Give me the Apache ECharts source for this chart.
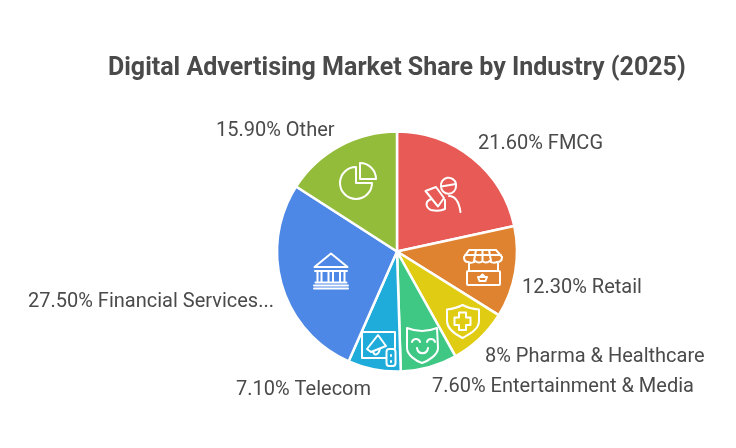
<!DOCTYPE html>
<html><head><meta charset="utf-8">
<script src="https://cdn.jsdelivr.net/npm/echarts@6/dist/echarts.min.js"></script>
<style>html,body{margin:0;padding:0;background:#fff}#c{width:736px;height:448px}</style></head>
<body><div id="c"></div>
<script>
const titleText = 'Digital Advertising Market Share by Industry (2025)';
const categories = ['FMCG','Retail','Pharma & Healthcare','Entertainment & Media','Telecom','Financial Services...','Other'];
const shares = [21.6,12.3,8,7.6,7.1,27.5,15.9];
const shareLabels = ['21.60%','12.30%','8%','7.60%','7.10%','27.50%','15.90%'];
const colors = ['#E85A55','#DF8330','#E1CC14','#3FC784','#1FACDB','#4E88E6','#93BC3B'];
const labelAnchors = [[478,144],[522,288],[485,357],[432,387],[236,390],[28,302],[216,131]];
const iconPaths = [
 'M441 186.500 A7.500 7.500 0 0 1 456 184 L456 186 A7.500 7.500 0 0 1 441 186.500 Z M441 186.500 L456 184 M449 196 C455 196 459 202 460.500 212 M425.500 191 L436 187 L444 198 L438 206.500 Z M431.500 199 C425 201 425 207 431 210 C436 211 441 211 445 209 L445 200',
 'M469 250 L496 250 L502 257 C502 261 499 262 497 262 C495 263 491 263 489.500 261 C488 263 484 263 482.500 261 C481 263 477 263 475.500 261 C474 263 470 263 468 262 C466 262 464 261 464 257 Z M465 255 L501 255 M476 250 L474 261 M482.500 250 L482.500 261 M489 250 L491 261 M469 263 L469 271 M498 263 L498 271 M468 271 L499 271 Q500 271 500 272 L500 284 Q500 285 499 285 L468 285 Q467 285 467 284 L467 272 Q467 271 468 271 Z M478 277 L487 277 L485.500 281 L479.500 281 Z M480 277 L482.500 274.500 L485 277',
 'M462.500 305 C457 308 452 309 447 309.500 L447 321 C447 329 455 334 462.500 338 C470 334 479 329 479 321 L479 309.500 C473 309 468 308 462.500 305 Z M459 312.500 L466 312.500 L466 317.500 L470.500 317.500 L470.500 325 L466 325 L466 330 L459 330 L459 325 L454.500 325 L454.500 317.500 L459 317.500 Z',
 'M407 328 C417 332 427 332 437 328 L438 348 C438 355 428 361 422 363 C416 361 407 355 407 348 Z M412 342 C413 338 419 338 420 342 M427 342 C428 338 434 338 435 342 M417 348 C418 355 427 355 428 348',
 'M386 358 L362 358 L362 332 L395 332 L395 348 M367 349 L378 335 L386 346 L371 352 Z M373 351 C374 356 378 356 380 349 M389 349 L393 349 Q395.500 349 395.500 352 L395.500 363 Q395.500 366 393 366 L389 366 Q386.500 366 386.500 363 L386.500 352 Q386.500 349 389 349 Z M391 355 L391 356 M391 361 L391 362',
 'M331 253.500 L314.500 267 L347.500 267 Z M315 271 L347 271 M317.500 272 L317.500 282 M321.500 272 L321.500 282 M328.500 272 L328.500 282 M333 272 L333 282 M340 272 L340 282 M344.500 272 L344.500 282 M315.500 282.500 L346.500 282.500 M314 285.500 L348 285.500 M314 288.500 L348 288.500',
 'M356 167 L356 183 L372 183 A16 16 0 1 1 356 167 Z M360 163 L360 179 L376 179 A16 16 0 0 0 360 163 Z'
];
const chart = echarts.init(document.getElementById('c'));
chart.setOption({
  animation:false,
  title:{text:titleText,left:108,top:56,textStyle:{fontFamily:'Roboto',fontWeight:'bold',fontSize:25,color:'#4A4A4A'},padding:0},
  color:colors,
  series:[{
    type:'pie',center:[397,251.5],radius:[0,120],startAngle:90,clockwise:true,
    itemStyle:{borderColor:'#fff',borderWidth:2.5},
    label:{show:true,position:'outside',overflow:'none',fontFamily:'Roboto',fontSize:20,color:'#4A4A4A',formatter:p=>shareLabels[p.dataIndex]+' '+p.name},
    labelLine:{show:false},
    labelLayout:p=>({x:labelAnchors[p.dataIndex][0],y:labelAnchors[p.dataIndex][1],align:'left',verticalAlign:'middle'}),
    data:categories.map((name,i)=>({name,value:shares[i]}))
  },{
    type:'custom',coordinateSystem:'none',silent:true,z:10,
    data:iconPaths.map((d,i)=>i),
    renderItem:(params)=>({type:'path',shape:{pathData:iconPaths[params.dataIndex]},style:{fill:'none',stroke:'#fff',lineWidth:2,lineJoin:'round',lineCap:'round'}})
  }]
});
</script></body></html>
